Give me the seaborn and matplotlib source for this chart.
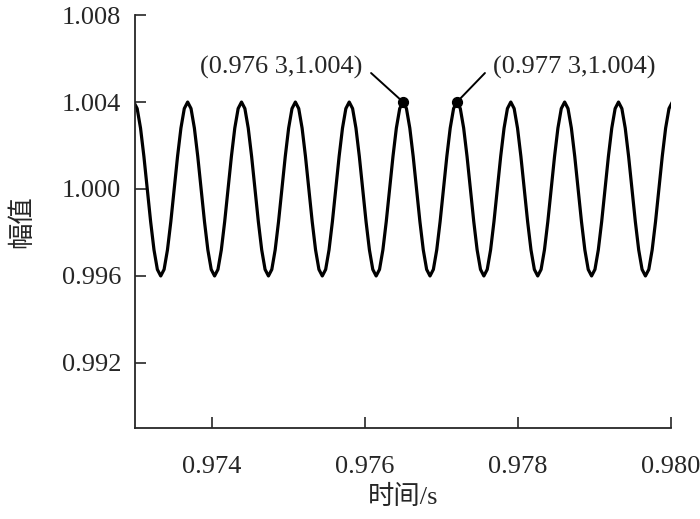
import numpy as np
import pandas as pd
import matplotlib
matplotlib.use("Agg")
import matplotlib.pyplot as plt
import seaborn as sns

t_start = 0.972983
t_step = 0.000044
amplitude = [
    1.0040, 1.0037, 1.0028, 1.0015, 1.0000, 0.9985, 0.9972, 0.9963,
    0.9960, 0.9963, 0.9972, 0.9985, 1.0000, 1.0015, 1.0028, 1.0037,
    1.0040, 1.0037, 1.0028, 1.0015, 1.0000, 0.9985, 0.9972, 0.9963,
    0.9960, 0.9963, 0.9972, 0.9985, 1.0000, 1.0015, 1.0028, 1.0037,
    1.0040, 1.0037, 1.0028, 1.0015, 1.0000, 0.9985, 0.9972, 0.9963,
    0.9960, 0.9963, 0.9972, 0.9985, 1.0000, 1.0015, 1.0028, 1.0037,
    1.0040, 1.0037, 1.0028, 1.0015, 1.0000, 0.9985, 0.9972, 0.9963,
    0.9960, 0.9963, 0.9972, 0.9985, 1.0000, 1.0015, 1.0028, 1.0037,
    1.0040, 1.0037, 1.0028, 1.0015, 1.0000, 0.9985, 0.9972, 0.9963,
    0.9960, 0.9963, 0.9972, 0.9985, 1.0000, 1.0015, 1.0028, 1.0037,
    1.0040, 1.0037, 1.0028, 1.0015, 1.0000, 0.9985, 0.9972, 0.9963,
    0.9960, 0.9963, 0.9972, 0.9985, 1.0000, 1.0015, 1.0028, 1.0037,
    1.0040, 1.0037, 1.0028, 1.0015, 1.0000, 0.9985, 0.9972, 0.9963,
    0.9960, 0.9963, 0.9972, 0.9985, 1.0000, 1.0015, 1.0028, 1.0037,
    1.0040, 1.0037, 1.0028, 1.0015, 1.0000, 0.9985, 0.9972, 0.9963,
    0.9960, 0.9963, 0.9972, 0.9985, 1.0000, 1.0015, 1.0028, 1.0037,
    1.0040, 1.0037, 1.0028, 1.0015, 1.0000, 0.9985, 0.9972, 0.9963,
    0.9960, 0.9963, 0.9972, 0.9985, 1.0000, 1.0015, 1.0028, 1.0037,
    1.0040, 1.0037, 1.0028, 1.0015, 1.0000, 0.9985, 0.9972, 0.9963,
    0.9960, 0.9963, 0.9972, 0.9985, 1.0000, 1.0015, 1.0028, 1.0037,
    1.0040,
]

# marked crests
mark_t = [0.976503, 0.977207]
mark_v = [1.004, 1.004]
mark_text = ["(0.976 3,1.004)", "(0.977 3,1.004)"]

x_ticks = [0.974, 0.976, 0.978, 0.980]
y_ticks = [0.992, 0.996, 1.000, 1.004, 1.008]

df = pd.DataFrame({"t": t_start + t_step * np.arange(len(amplitude)), "v": amplitude})

sns.set_style("ticks")
plt.rcParams["font.family"] = ["Liberation Serif", "Noto Sans CJK SC"]
plt.rcParams["font.size"] = 19

fig = plt.figure(figsize=(7, 5.19), dpi=100)
ax = fig.add_axes([0.193, 0.175, 0.765, 0.796])

sns.lineplot(data=df, x="t", y="v", color="black", linewidth=2.3, ax=ax)
ax.scatter(mark_t, mark_v, s=50, color="black", zorder=5)

# leader lines and labels (offsets in pixels from the marked point)
line_off = [(-32, 29), (28, 29)]
text_off = [(-41, 35), (36, 35)]
text_ha = ["right", "left"]
for i in range(2):
    ax.annotate("", xy=(mark_t[i], mark_v[i]), xytext=line_off[i], textcoords="offset pixels",
                arrowprops=dict(arrowstyle="-", color="black", lw=1.4, shrinkA=0, shrinkB=0))
    ax.annotate(mark_text[i], xy=(mark_t[i], mark_v[i]), xytext=text_off[i],
                textcoords="offset pixels", ha=text_ha[i], va="center", fontsize=19)

ax.set_xlim(0.973, 0.980)
ax.set_ylim(0.989, 1.008)
ax.set_xticks(x_ticks)
ax.set_yticks(y_ticks)
ax.set_xticklabels([f"{v:.3f}" for v in x_ticks])
ax.set_yticklabels([f"{v:.3f}" for v in y_ticks])
ax.tick_params(direction="in", length=8, width=1.2, labelsize=19, pad=10)
ax.tick_params(axis="x", pad=20)
for s in ["left", "bottom"]:
    ax.spines[s].set_linewidth(1.3)
sns.despine(ax=ax)

ax.set_xlabel("时间/s", fontsize=19, labelpad=5)
ax.set_ylabel("幅值", fontsize=19, labelpad=20)

fig.savefig("out.png", dpi=100)
